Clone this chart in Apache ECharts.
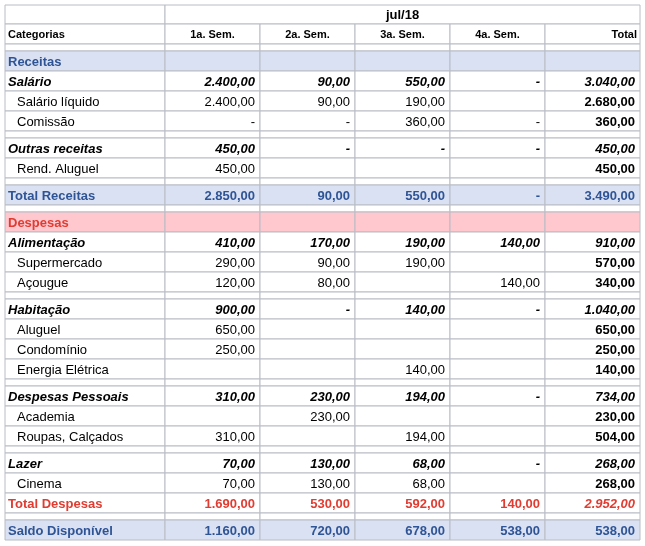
<!DOCTYPE html>
<html><head><meta charset="utf-8">
<script src="https://cdn.jsdelivr.net/npm/echarts@6/dist/echarts.min.js"></script>
<style>html,body{margin:0;padding:0;background:#fff}#c{width:645px;height:546px}</style>
</head><body><div id="c"></div>
<script>
const period = 'jul/18';
const columns = ['Categorias','1a. Sem.','2a. Sem.','3a. Sem.','4a. Sem.','Total'];
const labels = ['','Receitas','Salário','Salário líquido','Comissão','','Outras receitas','Rend. Aluguel','','Total Receitas','',
 'Despesas','Alimentação','Supermercado','Açougue','','Habitação','Aluguel','Condomínio','Energia Elétrica','',
 'Despesas Pessoais','Academia','Roupas, Calçados','','Lazer','Cinema','Total Despesas','','Saldo Disponível'];
const kinds = ['gap','secR','group','item','item','gap','group','item','gap','totR','gap',
 'secD','group','item','item','gap','group','item','item','item','gap',
 'group','item','item','gap','group','item','totD','gap','totR'];
const sem1 = ['','','2.400,00','2.400,00','-','','450,00','450,00','','2.850,00','','','410,00','290,00','120,00','','900,00','650,00','250,00','','','310,00','','310,00','','70,00','70,00','1.690,00','','1.160,00'];
const sem2 = ['','','90,00','90,00','-','','-','','','90,00','','','170,00','90,00','80,00','','-','','','','','230,00','230,00','','','130,00','130,00','530,00','','720,00'];
const sem3 = ['','','550,00','190,00','360,00','','-','','','550,00','','','190,00','190,00','','','140,00','','','140,00','','194,00','','194,00','','68,00','68,00','592,00','','678,00'];
const sem4 = ['','','-','','-','','-','','','-','','','140,00','','140,00','','-','','','','','-','','','','-','','140,00','','538,00'];
const total = ['','','3.040,00','2.680,00','360,00','','450,00','450,00','','3.490,00','','','910,00','570,00','340,00','','1.040,00','650,00','250,00','140,00','','734,00','230,00','504,00','','268,00','268,00','2.952,00','','538,00'];

const colEdges = [0,160,255,350,445,540,635];
const H1 = 19, H2 = 20, RH = 20, GH = 7;
const rowTop = []; let acc = H1 + H2;
kinds.forEach(k => { rowTop.push(acc); acc += (k === 'gap' ? GH : RH); });
const totalH = acc;
const valCols = [sem1, sem2, sem3, sem4, total];

const data = [];
data.push([0,-2]); data.push([1,-2]); // header 1 (merged)
for (let c = 0; c < 6; c++) data.push([c,-1]);
kinds.forEach((k,r) => { for (let c = 0; c < 6; c++) data.push([c,r]); });

const FONT = '"Liberation Sans", Arial, sans-serif';
const BLUE = '#2f5496', RED = '#e03c31';

function renderItem(params, api) {
  const c = api.value(0), r = api.value(1);
  let x0 = colEdges[c], x1 = colEdges[c+1], y0, y1, text = '', align = 'right', fill = '#fff', color = '#000', fw = 'normal', fs = 'normal', size = 13, pad = 5;
  if (r === -2) { y0 = 0; y1 = H1; if (c === 1) { x1 = colEdges[6]; text = period; align = 'center'; fw = 'bold'; } }
  else if (r === -1) { y0 = H1; y1 = H1 + H2; text = columns[c]; fw = 'bold'; size = 11; align = c === 0 ? 'left' : (c === 5 ? 'right' : 'center'); pad = 3; }
  else {
    const k = kinds[r]; y0 = rowTop[r]; y1 = y0 + (k === 'gap' ? GH : RH);
    text = c === 0 ? labels[r] : valCols[c-1][r];
    align = c === 0 ? 'left' : 'right';
    if (k === 'secR' || k === 'totR') { fill = '#d9e1f2'; color = BLUE; fw = 'bold'; }
    if (k === 'secD') { fill = '#ffc7ce'; color = RED; fw = 'bold'; }
    if (k === 'totD') { color = RED; fw = 'bold'; if (c === 5) fs = 'italic'; }
    if (k === 'group') { fw = 'bold'; fs = 'italic'; }
    if (k === 'item') { if (c === 0) pad = 12; if (c === 5) fw = 'bold'; }
    if (k === 'secR' || k === 'secD') pad = 3;
    if (c === 0 && (k === 'totR' || k === 'totD')) pad = 3;
    if (c === 0 && k === 'group') pad = 3;
  }
  if (r === -2 && c === 1) {} else if (r === -2 && c > 1) return;
  const p0 = api.coord([x0, y0]), p1 = api.coord([x1, y1]);
  const left = Math.min(p0[0],p1[0]), top = Math.min(p0[1],p1[1]);
  const w = Math.abs(p1[0]-p0[0]), h = Math.abs(p1[1]-p0[1]);
  const tx = align === 'left' ? left + pad : (align === 'right' ? left + w - pad : left + w/2);
  return { type: 'group', children: [
    { type: 'rect', shape: { x: left, y: top, width: w, height: h }, style: { fill: fill, stroke: '#b8bcc4', lineWidth: 1 } },
    { type: 'text', style: { text: text, x: tx, y: top + h/2 + 1, align: align, verticalAlign: 'middle', fill: color, font: fs + ' ' + fw + ' ' + size + 'px ' + FONT } }
  ]};
}

const chart = echarts.init(document.getElementById('c'));
chart.setOption({
  animation: false,
  grid: { left: 5, top: 5, width: 635, height: totalH },
  xAxis: { type: 'value', min: 0, max: 635, show: false },
  yAxis: { type: 'value', min: 0, max: totalH, inverse: true, show: false },
  series: [{ type: 'custom', renderItem: renderItem, data: data, encode: { x: 0, y: 1 }, clip: false }]
});
</script></body></html>
